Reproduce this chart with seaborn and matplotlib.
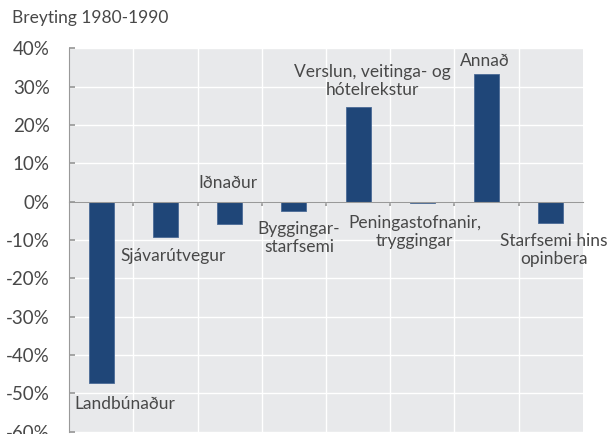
import matplotlib.pyplot as plt
import seaborn as sns
import numpy as np
import pandas as pd
from matplotlib.ticker import FuncFormatter, FixedLocator

# Gögn
greinar = ['Landbúnaður', 'Sjávarútvegur', 'Iðnaður', 'Byggingar-\nstarfsemi',
           'Verslun, veitinga- og\nhótelrekstur', 'Peningastofnanir,\ntryggingar',
           'Annað', 'Starfsemi hins\nopinbera']
breyting = [-47.4, -9.2, -5.7, -2.5, 24.7, -0.4, 33.2, -5.6]

# staðsetning merkja (x í flokkum, y í %)
merki_x = [0.37, 1.12, 1.97, 3.08, 4.23, 4.88, 5.98, 7.05]
merki_y = [-52.8, -14.2, 4.8, -9.6, 31.4, -7.9, 36.6, -12.7]

sns.set_theme(style='dark')
plt.rcParams['font.family'] = ['Lato', 'DejaVu Sans']
txt_color = '#484848'

fig = plt.figure(figsize=(6.07, 4.34), dpi=100)
ax = fig.add_axes([0.114, 0.005, 0.846, 0.884])
ax.set_facecolor('#e8e9eb')

df = pd.DataFrame({'grein': greinar, 'breyting': breyting})
sns.barplot(data=df, x='grein', y='breyting', color='#1f4678', width=0.39,
            saturation=1, edgecolor='#4a6a96', linewidth=0.6, ax=ax, zorder=3)

ax.set_ylim(-60, 40)
ax.set_xlim(-0.5, len(greinar) - 0.5)
ax.set_yticks(np.arange(-60, 41, 10))
ax.yaxis.set_major_formatter(FuncFormatter(lambda v, p: f'{v:.0f}%'))
ax.tick_params(axis='y', labelsize=13.5, labelcolor=txt_color, direction='in',
               length=4, color='#999999', left=True, pad=14)

# lóðréttar línur milli flokka
bounds = np.arange(0.5, len(greinar) - 0.5, 1)
ax.xaxis.set_major_locator(FixedLocator(bounds))
ax.set_xticklabels([])
ax.tick_params(axis='x', direction='out', length=3, color='#999999', bottom=True)
ax.grid(True, color='white', linewidth=1.0, zorder=0)
ax.set_axisbelow(True)
ax.set_xlabel('')
ax.set_ylabel('')

for s in ['top', 'right']:
    ax.spines[s].set_visible(False)
ax.spines['left'].set_color('#999999')
ax.spines['left'].set_linewidth(0.8)
ax.spines['bottom'].set_position(('data', 0))
ax.spines['bottom'].set_color('#999999')
ax.spines['bottom'].set_linewidth(0.8)
ax.spines['bottom'].set_zorder(4)

for lab, x, y in zip(greinar, merki_x, merki_y):
    ax.text(x, y, lab, ha='center', va='center', fontsize=12.5, color=txt_color,
            linespacing=1.15, zorder=5)

fig.text(0.02, 0.958, 'Breyting 1980-1990', fontsize=12.5, color=txt_color,
         ha='left', va='center')

fig.savefig('out.png', dpi=100)
